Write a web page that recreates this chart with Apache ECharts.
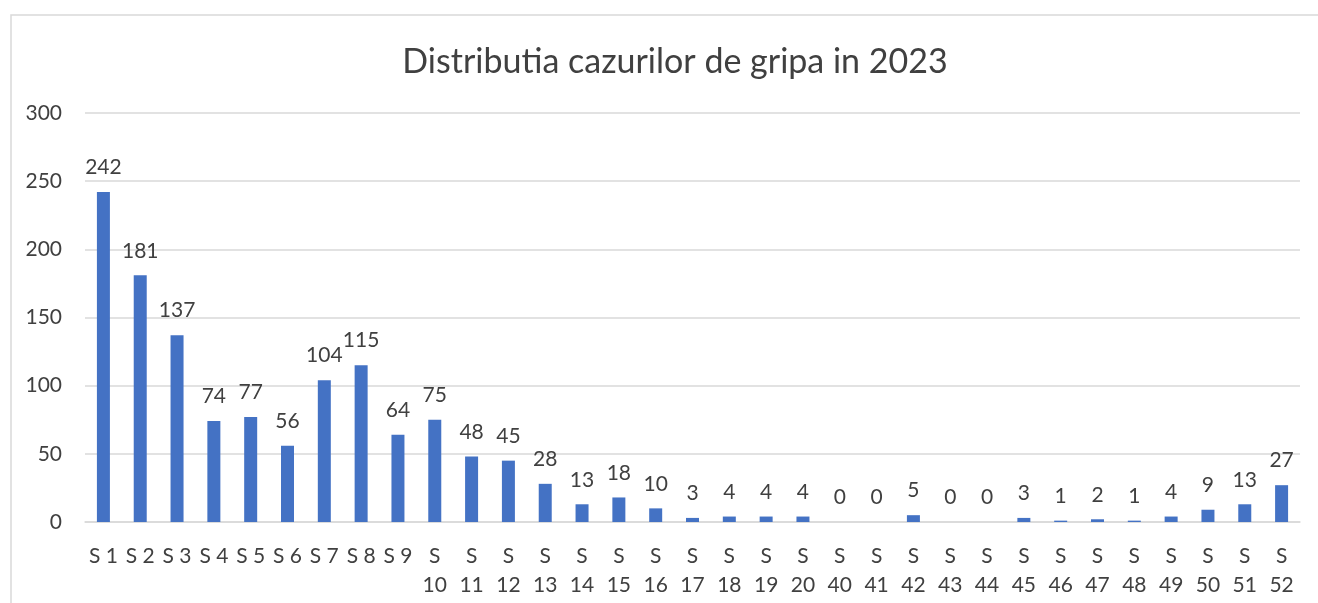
<!DOCTYPE html>
<html>
<head>
<meta charset="utf-8">
<script src="https://cdn.jsdelivr.net/npm/echarts@6/dist/echarts.min.js"></script>
<style>
  html, body { margin: 0; padding: 0; background: #fff; }
  #chart { width: 1318px; height: 603px; }
</style>
</head>
<body>
<div id="chart"></div>
<script>
// saptamanile din 2023
var weeks = ['S 1', 'S 2', 'S 3', 'S 4', 'S 5', 'S 6', 'S 7', 'S 8', 'S 9', 'S 10',
  'S 11', 'S 12', 'S 13', 'S 14', 'S 15', 'S 16', 'S 17', 'S 18', 'S 19', 'S 20',
  'S 40', 'S 41', 'S 42', 'S 43', 'S 44', 'S 45', 'S 46', 'S 47', 'S 48', 'S 49',
  'S 50', 'S 51', 'S 52'];
var cases = [242, 181, 137, 74, 77, 56, 104, 115, 64, 75,
  48, 45, 28, 13, 18, 10, 3, 4, 4, 4,
  0, 0, 5, 0, 0, 3, 1, 2, 1, 4,
  9, 13, 27];
var yTicks = [0, 50, 100, 150, 200, 250, 300];

var font = 'Lato, "Open Sans", sans-serif';
var myChart = echarts.init(document.getElementById('chart'));
var option = {
    animation: false,
    title: {
        text: 'Distributia cazurilor de gripa in 2023',
        left: 670,
        top: 40,
        textAlign: 'center',
        textStyle: {
            fontFamily: font,
            fontSize: 34,
            fontWeight: 'normal',
            color: '#404040'
        }
    },
    // chenarul graficului
    graphic: [{
        type: 'rect',
        shape: { x: 11, y: 15, width: 1400, height: 700 },
        style: { fill: 'none', stroke: '#d9d9d9', lineWidth: 1.5 },
        silent: true
    }],
    grid: {
        left: 85,
        right: 18,
        top: 113,
        bottom: 81
    },
    xAxis: {
        type: 'category',
        data: weeks,
        axisTick: { show: false },
        axisLine: { lineStyle: { color: '#d9d9d9', width: 1.5 } },
        axisLabel: {
            interval: 0,
            margin: 20,
            color: '#404040',
            fontFamily: font,
            fontSize: 21,
            lineHeight: 29,
            formatter: function (v) {
                var n = parseInt(v.split(' ')[1], 10);
                return n >= 10 ? v.replace(' ', '\n') : v;
            }
        }
    },
    yAxis: {
        type: 'value',
        min: yTicks[0],
        max: yTicks[yTicks.length - 1],
        interval: 50,
        axisLine: { show: false },
        axisTick: { show: false },
        splitLine: { lineStyle: { color: '#d9d9d9', width: 1.5 } },
        axisLabel: {
            margin: 23,
            color: '#404040',
            fontFamily: font,
            fontSize: 21
        }
    },
    series: [{
        name: 'Cazuri',
        type: 'bar',
        data: cases,
        barWidth: 13,
        itemStyle: { color: '#4472C4' },
        label: {
            show: true,
            position: 'top',
            distance: 14,
            color: '#404040',
            fontFamily: font,
            fontSize: 21
        }
    }]
};
myChart.setOption(option);
</script>
</body>
</html>
